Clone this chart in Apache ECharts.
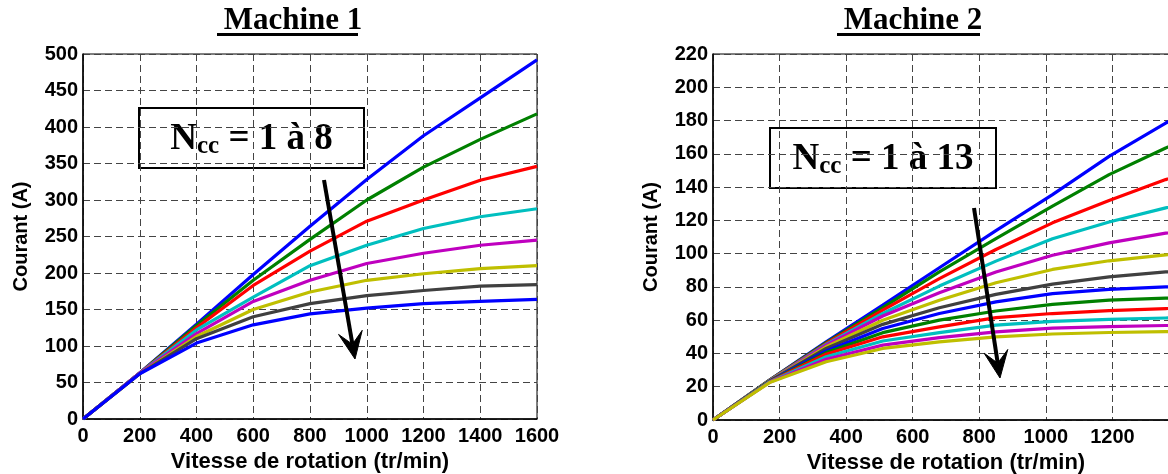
<!DOCTYPE html>
<html>
<head>
<meta charset="utf-8">
<script src="https://cdn.jsdelivr.net/npm/echarts@6/dist/echarts.min.js"></script>
<style>
html,body{margin:0;padding:0;background:#fff;}
#chart{width:1168px;height:474px;}
</style>
</head>
<body>
<div id="chart"></div>
<script>
// ---------- DATA ----------
// Machine 1 : speed (tr/min) and current (A) for Ncc = 1 .. 8
const speed1 = [0, 200, 400, 600, 800, 1000, 1200, 1400, 1600];
const m1_ncc1 = [0, 63, 130, 198, 264, 328, 388, 440, 492];
const m1_ncc2 = [0, 63, 128, 190, 246, 300, 345, 383, 418];
const m1_ncc3 = [0, 63, 125, 183, 230, 271, 300, 327, 346];
const m1_ncc4 = [0, 63, 122, 167, 210, 238, 261, 277, 288];
const m1_ncc5 = [0, 63, 117, 161, 190, 213, 227, 238, 245];
const m1_ncc6 = [0, 62, 113, 150, 174, 190, 199, 206, 210];
const m1_ncc7 = [0, 62, 110, 140, 158, 169, 176, 182, 184];
const m1_ncc8 = [0, 62, 104, 129, 144, 152, 158, 161, 164];

// Machine 2 : speed (tr/min) and current (A) for Ncc = 1 .. 13
const speed2 = [0, 170, 340, 510, 680, 850, 1020, 1190, 1360, 1530];
const m2_ncc1  = [0, 24.0, 47.0, 69.0, 91.5, 113.8, 135.5, 158.5, 178.5, 196.0];
const m2_ncc2  = [0, 24.0, 46.5, 67.5, 89.0, 109.0, 128.5, 147.5, 163.5, 177.0];
const m2_ncc3  = [0, 23.8, 46.0, 66.0, 85.0, 102.5, 118.5, 132.0, 144.5, 155.0];
const m2_ncc4  = [0, 23.7, 45.5, 64.0, 80.5, 95.5, 109.0, 119.0, 127.5, 134.0];
const m2_ncc5  = [0, 23.6, 45.0, 62.5, 76.5, 89.0, 99.0, 106.5, 112.3, 116.5];
const m2_ncc6  = [0, 23.5, 44.0, 60.0, 72.0, 82.5, 90.5, 95.7, 99.3, 102.0];
const m2_ncc7  = [0, 23.4, 43.0, 57.5, 67.5, 75.5, 81.7, 86.0, 89.0, 91.0];
const m2_ncc8  = [0, 23.3, 41.5, 55.0, 64.0, 71.0, 76.0, 78.5, 80.0, 81.0];
const m2_ncc9  = [0, 23.2, 40.5, 52.5, 60.0, 65.5, 69.5, 72.0, 73.2, 74.0];
const m2_ncc10 = [0, 23.0, 39.5, 50.0, 56.0, 61.5, 64.0, 65.7, 67.0, 67.8];
const m2_ncc11 = [0, 22.9, 38.0, 47.5, 52.5, 57.0, 59.3, 60.5, 61.3, 62.0];
const m2_ncc12 = [0, 22.7, 36.5, 45.0, 49.5, 53.0, 55.2, 56.1, 56.8, 57.2];
const m2_ncc13 = [0, 22.5, 35.0, 43.0, 47.0, 50.0, 51.7, 52.6, 53.1, 53.5];

// Axis ticks
const yTicks1 = {min: 0, max: 500, interval: 50};
const yTicks2 = {min: 0, max: 220, interval: 20};
const xTicks1 = {min: 0, max: 1600, interval: 200};
const xTicks2 = {min: 0, max: 1400, interval: 200};

// Texts
const titles = ['Machine 1', 'Machine 2'];
const boxLabels = [['N', 'cc', ' = 1 à 8'], ['N', 'cc', ' = 1 à 13']];
const xName = 'Vitesse de rotation (tr/min)';
const yName = 'Courant (A)';

// MATLAB colour order
const palette = ['#0000ff', '#008000', '#ff0000', '#00bfbf', '#bf00bf', '#bfbf00', '#404040'];

// ---------- CHART ----------
const m1 = [m1_ncc1, m1_ncc2, m1_ncc3, m1_ncc4, m1_ncc5, m1_ncc6, m1_ncc7, m1_ncc8];
const m2 = [m2_ncc1, m2_ncc2, m2_ncc3, m2_ncc4, m2_ncc5, m2_ncc6, m2_ncc7,
            m2_ncc8, m2_ncc9, m2_ncc10, m2_ncc11, m2_ncc12, m2_ncc13];

const labelFont = {fontFamily: '"Liberation Sans", Arial, sans-serif', fontWeight: 'bold', color: '#000'};
const gridLine = {show: true, lineStyle: {color: '#444', type: [7, 4], width: 1}};
const plain = v => String(v);

function xAxisCfg(gi, t, hideMax) {
  return {
    type: 'value', gridIndex: gi, min: t.min, max: t.max, interval: t.interval,
    name: xName, nameLocation: 'middle', nameGap: 28,
    nameTextStyle: Object.assign({fontSize: 22}, labelFont),
    axisLine: {show: true, lineStyle: {color: '#000', width: 1.5}},
    axisTick: {show: false},
    axisLabel: Object.assign({fontSize: 20, margin: 7, showMaxLabel: !hideMax, formatter: plain}, labelFont),
    splitLine: gridLine
  };
}
function yAxisCfg(gi, t) {
  return {
    type: 'value', gridIndex: gi, min: t.min, max: t.max, interval: t.interval,
    name: yName, nameLocation: 'middle', nameGap: 52,
    nameTextStyle: Object.assign({fontSize: 20}, labelFont),
    axisLine: {show: true, lineStyle: {color: '#000', width: 1.5}},
    axisTick: {show: false},
    axisLabel: Object.assign({fontSize: 20, margin: 5, formatter: plain}, labelFont),
    splitLine: gridLine
  };
}

const series = [];
m1.forEach((vals, i) => {
  series.push({
    name: 'M1 Ncc=' + (i + 1), type: 'line', xAxisIndex: 0, yAxisIndex: 0,
    data: speed1.map((s, k) => [s, vals[k]]),
    showSymbol: false, symbol: 'none', smooth: false,
    lineStyle: {width: 3.2, color: palette[i % palette.length]},
    itemStyle: {color: palette[i % palette.length]}
  });
});
m2.forEach((vals, i) => {
  series.push({
    name: 'M2 Ncc=' + (i + 1), type: 'line', xAxisIndex: 1, yAxisIndex: 1,
    data: speed2.map((s, k) => [s, vals[k]]),
    showSymbol: false, symbol: 'none', smooth: false,
    lineStyle: {width: 3.2, color: palette[i % palette.length]},
    itemStyle: {color: palette[i % palette.length]}
  });
});

const chart = echarts.init(document.getElementById('chart'), null, {renderer: 'canvas'});

function arrow(start, tip) {
  const dx = tip[0] - start[0], dy = tip[1] - start[1];
  const L = Math.hypot(dx, dy), ux = dx / L, uy = dy / L, px = -uy, py = ux;
  const headLen = 27, halfW = 12, notch = 15;
  const bx = tip[0] - headLen * ux, by = tip[1] - headLen * uy;
  const nx = tip[0] - notch * ux, ny = tip[1] - notch * uy;
  return [
    {type: 'polyline', shape: {points: [start, [nx, ny]]}, style: {stroke: '#000', lineWidth: 4, fill: null}, z: 100},
    {type: 'polygon', shape: {points: [tip, [bx + halfW * px, by + halfW * py], [nx, ny], [bx - halfW * px, by - halfW * py]]},
     style: {fill: '#000', stroke: '#000', lineWidth: 1}, z: 100}
  ];
}

function box(x, y, w, h, parts) {
  return {
    type: 'group', x: x, y: y, z: 90,
    children: [
      {type: 'rect', shape: {x: 0, y: 0, width: w, height: h}, style: {fill: '#fff', stroke: '#000', lineWidth: 2}},
      {type: 'text', x: w / 2, y: h / 2 + 1,
       style: {
         text: '{n|' + parts[0] + '}{s|' + parts[1] + '}{n|' + parts[2] + '}',
         align: 'center', verticalAlign: 'middle',
         rich: {
           n: {fontFamily: '"Liberation Serif", "Times New Roman", serif', fontWeight: 'bold', fontSize: 37, lineHeight: 40, fill: '#000'},
           s: {fontFamily: '"Liberation Serif", "Times New Roman", serif', fontWeight: 'bold', fontSize: 25, lineHeight: 24, verticalAlign: 'bottom', fill: '#000'}
         }
       }}
    ]
  };
}

const titleFont = {fontFamily: '"Liberation Serif", "Times New Roman", serif', fontWeight: 'bold', fontSize: 31, color: '#000'};

chart.setOption({
  animation: false,
  backgroundColor: '#fff',
  title: [
    {text: titles[0], left: 288, top: 0, textAlign: 'center', textStyle: titleFont},
    {text: titles[1], left: 908, top: 0, textAlign: 'center', textStyle: titleFont}
  ],
  grid: [
    {left: 83, top: 54, width: 454, height: 365, show: true, borderColor: '#000', borderWidth: 1, backgroundColor: 'transparent', outerBoundsMode: 'none'},
    {left: 713, top: 54, width: 466, height: 366, show: true, borderColor: '#000', borderWidth: 1, backgroundColor: 'transparent', outerBoundsMode: 'none'}
  ],
  xAxis: [xAxisCfg(0, xTicks1, false), xAxisCfg(1, xTicks2, true)],
  yAxis: [yAxisCfg(0, yTicks1), yAxisCfg(1, yTicks2)],
  series: series,
  graphic: [
    {type: 'rect', shape: {x: 217, y: 33, width: 141, height: 3}, style: {fill: '#000'}},
    {type: 'rect', shape: {x: 837, y: 33, width: 143, height: 3}, style: {fill: '#000'}},
    box(139, 108, 225, 60, boxLabels[0]),
    box(770, 128, 226, 60, boxLabels[1])
  ].concat(arrow([324, 180], [355, 359]), arrow([974, 208], [1000, 378]))
});
</script>
</body>
</html>
